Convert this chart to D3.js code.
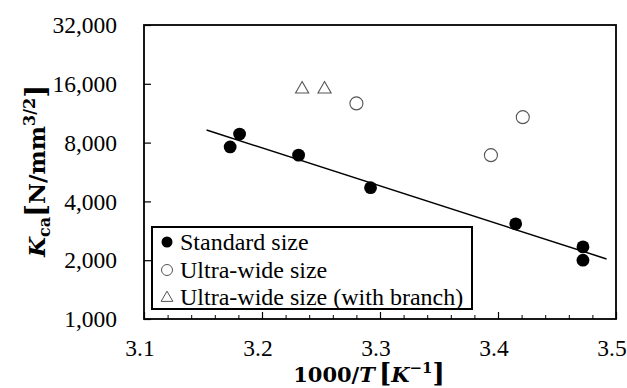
<!DOCTYPE html>
<html>
<head>
<meta charset="utf-8">
<script src="https://cdn.jsdelivr.net/npm/d3@7/dist/d3.min.js"></script>
<style>
  body { margin: 0; background: #fff; }
  svg { display: block; }
</style>
</head>
<body>
<svg id="chart" width="627" height="388"></svg>
<script>
// values
const standardX = [3.173, 3.181, 3.231, 3.292, 3.415, 3.472, 3.472];
const standardY = [7600, 8850, 6900, 4700, 3070, 2340, 2000];

const wideX = [3.280, 3.394, 3.421];
const wideY = [12700, 6900, 10800];

const branchX = [3.234, 3.253];
const branchY = [15200, 15200];

// exponential fit of standard size, drawn as straight segment on log axis
const trendX = [3.153, 3.492];
const trendY = [9280, 2030];

const xTicks = [3.1, 3.2, 3.3, 3.4, 3.5];
const xMinorTicks = d3.range(3.1, 3.5001, 0.02);
const yTicks = [1000, 2000, 4000, 8000, 16000, 32000];

const legendLabels = ['Standard size', 'Ultra-wide size', 'Ultra-wide size (with branch)'];

const serif = "'Liberation Serif', 'Times New Roman', serif";
const mathFont = "'DejaVu Serif', serif";

const svg = d3.select('#chart');
const m = { left: 144, right: 616, top: 25, bottom: 319 };

const x = d3.scaleLinear().domain([3.1, 3.5]).range([m.left, m.right]);
const y = d3.scaleLog().base(2).domain([1000, 32000]).range([m.bottom, m.top]);

// y axis ticks, pointing inward
const yAxis = svg.append('g')
    .attr('transform', `translate(${m.left},0)`)
    .call(d3.axisRight(y).tickValues(yTicks).tickSize(7).tickFormat(''));
yAxis.select('.domain').remove();
yAxis.selectAll('line').attr('stroke', '#000').attr('stroke-width', 1.2);

svg.append('g').selectAll('text')
    .data(yTicks)
    .join('text')
    .attr('x', 117)
    .attr('y', d => y(d))
    .attr('dy', '0.35em')
    .attr('text-anchor', 'end')
    .style('font-family', serif)
    .style('font-size', '23.5px')
    .text(d => d3.format(',')(d));

// x axis, minor and major ticks pointing up
const xMinor = svg.append('g')
    .attr('transform', `translate(0,${m.bottom})`)
    .call(d3.axisTop(x).tickValues(xMinorTicks).tickSize(4).tickFormat(''));
xMinor.select('.domain').remove();
xMinor.selectAll('line').attr('stroke', '#000').attr('stroke-width', 1);

const xAxis = svg.append('g')
    .attr('transform', `translate(0,${m.bottom})`)
    .call(d3.axisTop(x).tickValues(xTicks).tickSize(7).tickFormat(''));
xAxis.select('.domain').remove();
xAxis.selectAll('line').attr('stroke', '#000').attr('stroke-width', 1.2);

svg.append('g').selectAll('text')
    .data(xTicks)
    .join('text')
    .attr('x', d => x(d) - 4)
    .attr('y', 356)
    .attr('text-anchor', 'middle')
    .style('font-family', serif)
    .style('font-size', '23.5px')
    .text(d => d.toFixed(1));

// plot frame
svg.append('rect')
    .attr('x', m.left).attr('y', m.top)
    .attr('width', m.right - m.left).attr('height', m.bottom - m.top)
    .attr('fill', 'none').attr('stroke', '#000').attr('stroke-width', 1.8);

// trend line
svg.append('line')
    .attr('x1', x(trendX[0])).attr('y1', y(trendY[0]))
    .attr('x2', x(trendX[1])).attr('y2', y(trendY[1]))
    .attr('stroke', '#000').attr('stroke-width', 1.5);

const triangle = d3.symbol().type(d3.symbolTriangle).size(75);

svg.append('g').selectAll('circle')
    .data(standardX.map((d, i) => [d, standardY[i]]))
    .join('circle')
    .attr('cx', d => x(d[0])).attr('cy', d => y(d[1]))
    .attr('r', 6.4).attr('fill', '#000');

svg.append('g').selectAll('circle')
    .data(wideX.map((d, i) => [d, wideY[i]]))
    .join('circle')
    .attr('cx', d => x(d[0])).attr('cy', d => y(d[1]))
    .attr('r', 6.5).attr('fill', '#fff').attr('stroke', '#555').attr('stroke-width', 1.1);

svg.append('g').selectAll('path')
    .data(branchX.map((d, i) => [d, branchY[i]]))
    .join('path')
    .attr('d', triangle)
    .attr('transform', d => `translate(${x(d[0])},${y(d[1]) + 1})`)
    .attr('fill', '#fff').attr('stroke', '#555').attr('stroke-width', 1.1);

// legend
const lg = svg.append('g');
lg.append('rect')
    .attr('x', 152).attr('y', 227).attr('width', 320).attr('height', 82)
    .attr('fill', '#fff').attr('stroke', '#000').attr('stroke-width', 2);

const rows = [242, 270, 297];
lg.append('circle').attr('cx', 167).attr('cy', rows[0]).attr('r', 5.5).attr('fill', '#000');
lg.append('circle').attr('cx', 167).attr('cy', rows[1]).attr('r', 5.5)
    .attr('fill', '#fff').attr('stroke', '#555').attr('stroke-width', 1);
lg.append('path').attr('d', d3.symbol().type(d3.symbolTriangle).size(60))
    .attr('transform', `translate(167,${rows[2] + 1})`)
    .attr('fill', '#fff').attr('stroke', '#555').attr('stroke-width', 1);

lg.selectAll('text.leg')
    .data(legendLabels)
    .join('text')
    .attr('class', 'leg')
    .attr('x', 180)
    .attr('y', (d, i) => rows[i])
    .attr('dy', '0.33em')
    .style('font-family', serif)
    .style('font-size', '24px')
    .text(d => d);

// axis titles
const xt = svg.append('text')
    .attr('x', 369).attr('y', 382)
    .attr('text-anchor', 'middle')
    .style('font-family', mathFont)
    .style('font-weight', 'bold')
    .style('font-size', '21px');
xt.append('tspan').text('1000/');
xt.append('tspan').style('font-style', 'italic').text('T');
xt.append('tspan').attr('dx', 4).style('font-size', '26px').text('[');
xt.append('tspan').style('font-style', 'italic').text('K');
xt.append('tspan').attr('dy', -9).style('font-size', '15px').text('−1');
xt.append('tspan').attr('dy', 9).style('font-size', '26px').text(']');

const yt = svg.append('text')
    .attr('transform', 'translate(45,171) rotate(-90)')
    .attr('text-anchor', 'middle')
    .style('font-family', mathFont)
    .style('font-weight', 'bold')
    .style('font-size', '23px');
yt.append('tspan').style('font-style', 'italic').text('K');
yt.append('tspan').attr('dy', 5).style('font-size', '16px').text('ca');
yt.append('tspan').attr('dy', -5).style('font-size', '27px').text('[');
yt.append('tspan').text('N/mm');
yt.append('tspan').attr('dy', -10).style('font-size', '16px').text('3/2');
yt.append('tspan').attr('dy', 10).style('font-size', '27px').text(']');
</script>
</body>
</html>
